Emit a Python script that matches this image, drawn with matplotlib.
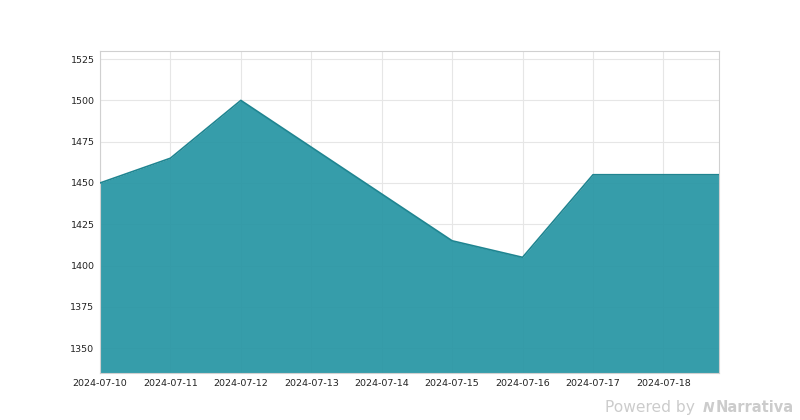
import matplotlib
matplotlib.use("Agg")
import matplotlib.pyplot as plt
import pandas as pd

dates = ["2024-07-10", "2024-07-11", "2024-07-12", "2024-07-15",
         "2024-07-16", "2024-07-17", "2024-07-18", "2024-07-19"]
values = [1450, 1465, 1500, 1415, 1405, 1455, 1455, 1455]
tick_labels = ["2024-07-10", "2024-07-11", "2024-07-12", "2024-07-13", "2024-07-14",
               "2024-07-15", "2024-07-16", "2024-07-17", "2024-07-18"]
y_ticks = [1350, 1375, 1400, 1425, 1450, 1475, 1500, 1525]

x = pd.to_datetime(dates)
fig = plt.figure(figsize=(8, 4.2), dpi=100)
ax = fig.add_axes([0.125, 0.112, 0.774, 0.767])

ymin = 1335
ax.fill_between(x, values, ymin, color="#2796a4", alpha=0.93, linewidth=0, zorder=2)
ax.plot(x, values, color="#1f8591", linewidth=1.2, zorder=3)

ax.set_ylim(ymin, 1530)
ax.set_xlim(pd.Timestamp("2024-07-10"), pd.Timestamp("2024-07-18 19:00"))
ax.set_yticks(y_ticks)
tk = pd.to_datetime(tick_labels)
ax.set_xticks(tk)
ax.set_xticklabels(tick_labels)
ax.tick_params(length=0, labelsize=6.8, colors="#222222", pad=4)
ax.grid(True, color="#e6e6e6", linewidth=0.8, zorder=0)
ax.set_axisbelow(True)
for s in ax.spines.values():
    s.set_color("#d0d0d0")

fig.text(0.869, 0.012, "Powered by", color="#cccccc", fontsize=11.2, ha="right", va="bottom")
fig.text(0.879, 0.012, "N", color="#cccccc", fontsize=10, ha="left", va="bottom",
         fontweight="bold", fontstyle="italic")
fig.text(0.992, 0.012, "Narrativa", color="#cccccc", fontsize=10.5,
         ha="right", va="bottom", fontweight="bold")
fig.savefig("out.png", dpi=100)
